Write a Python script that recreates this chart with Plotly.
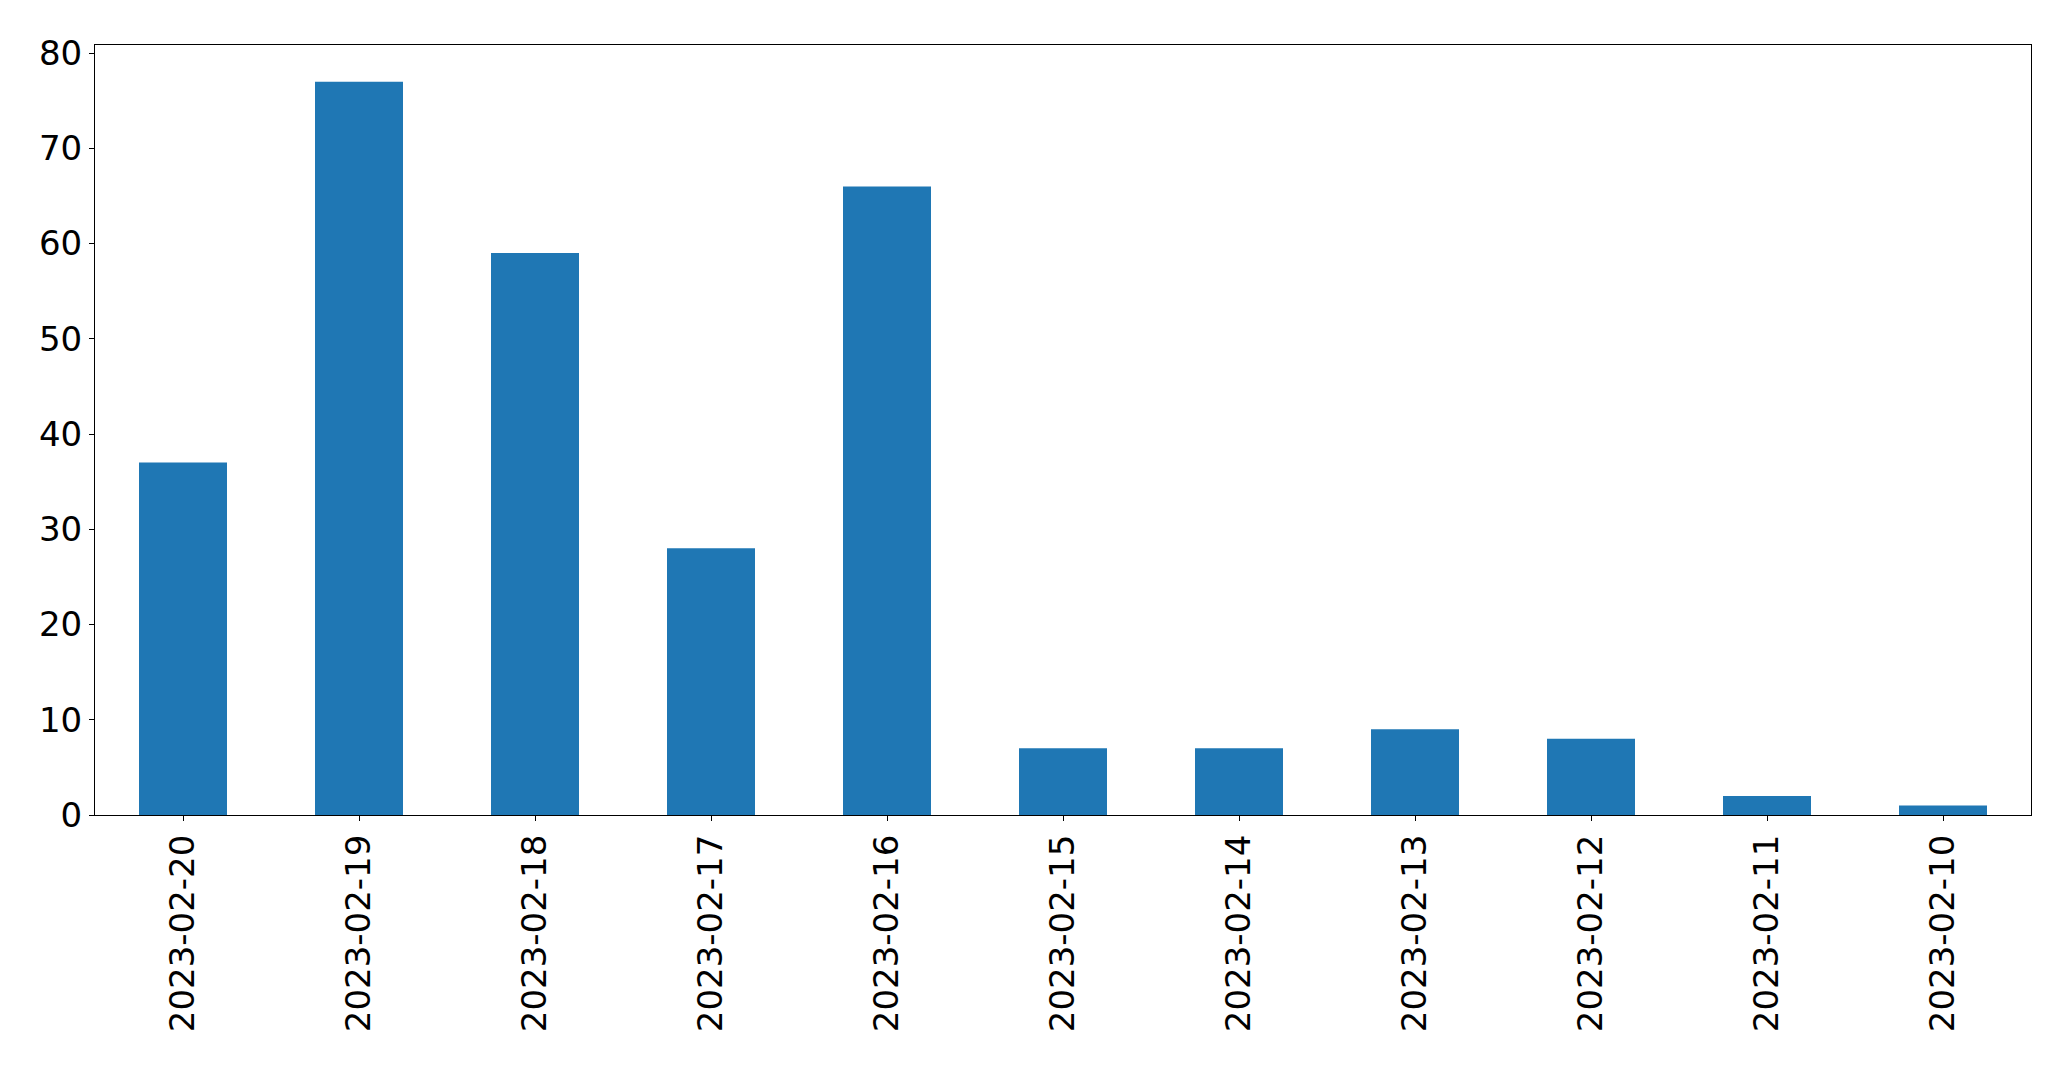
import plotly.graph_objects as go

dates = ["2023-02-20", "2023-02-19", "2023-02-18", "2023-02-17", "2023-02-16",
         "2023-02-15", "2023-02-14", "2023-02-13", "2023-02-12", "2023-02-11", "2023-02-10"]
counts = [37, 77, 59, 28, 66, 7, 7, 9, 8, 2, 1]
y_ticks = [0, 10, 20, 30, 40, 50, 60, 70, 80]

fig = go.Figure(go.Bar(x=dates, y=counts, width=0.5, marker=dict(color="#1f77b4", line=dict(width=0))))

axis_common = dict(showline=True, linecolor="black", linewidth=1.1, mirror=True,
                   ticks="outside", ticklen=5, tickwidth=1.1, tickcolor="black",
                   showgrid=False, zeroline=False, automargin=False,
                   tickfont=dict(family="DejaVu Sans", size=34, color="black"))

# page body has an 8px default margin; compensate so the plot area lands where the reference has it
fig.update_layout(
    template="none",
    width=2071, height=1067,
    margin=dict(l=87, r=48, t=37, b=260),
    plot_bgcolor="white", paper_bgcolor="white",
    showlegend=False,
    xaxis=dict(type="category", range=[-0.5, 10.5], tickangle=-90, **axis_common),
    yaxis=dict(range=[0, 80.85], tickvals=y_ticks, **axis_common),
)

fig.write_html("out.html")
